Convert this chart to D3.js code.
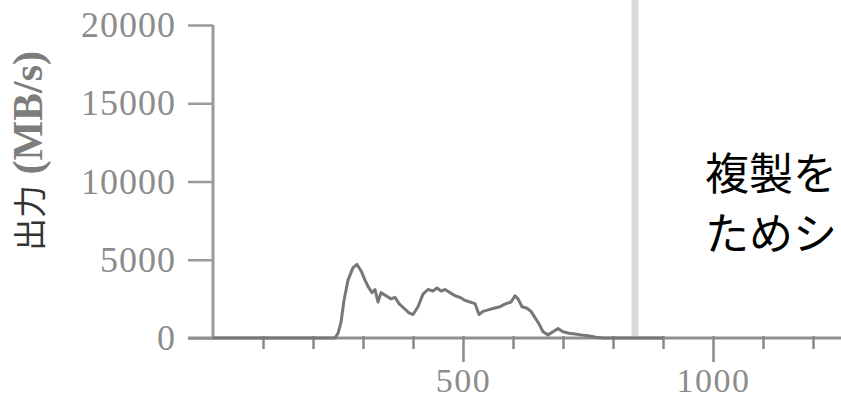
<!DOCTYPE html>
<html>
<head>
<meta charset="utf-8">
<script src="https://cdn.jsdelivr.net/npm/d3@7"></script>
<style>
  body { margin: 0; background: #fff; }
  svg { display: block; }
</style>
</head>
<body>
<div id="container"></div>
<script>
  // data
  const timeValues = [0, 100, 200, 244, 250, 256, 262, 270, 280, 288, 296, 304, 310, 318, 324, 330, 336, 346, 356, 364,
    372, 382, 392, 400, 410, 420, 430, 440, 448, 456, 464, 474, 484, 494, 504, 514, 524, 532, 540, 550,
    562, 574, 586, 596, 604, 610, 618, 628, 636, 644, 652, 660, 670, 680, 690, 700, 712, 724, 736, 750,
    766, 780, 900]
  const outputValues = [0, 0, 0, 0, 300, 1000, 2400, 3700, 4500, 4700, 4300, 3700, 3300, 2900, 3100, 2300, 2900, 2700, 2500, 2600,
    2200, 1900, 1600, 1500, 2000, 2800, 3100, 3000, 3200, 3000, 3100, 2900, 2700, 2600, 2400, 2300, 2200, 1500, 1700, 1800,
    1900, 2000, 2200, 2300, 2700, 2500, 2000, 1900, 1700, 1300, 900, 400, 200, 400, 600, 400, 300, 250, 200, 150,
    50, 0, 0]
  const yTicks = [0, 5000, 10000, 15000, 20000]
  const xTicks = [100, 200, 300, 400, 500, 600, 700, 800, 900, 1000, 1100, 1200]
  const xLabelTicks = [500, 1000]
  const markerValue = 844
  const overlayLines = ['複製を', 'ためシ']

  const w = 841
  const h = 401

  const svg = d3.select('#container')
    .append('svg')
    .attr('width', w)
    .attr('height', h)

  //SCALES
  const x = d3.scaleLinear()
    .domain([0, 1256])
    .range([213, 841])

  const y = d3.scaleLinear()
    .domain([0, 20000])
    .range([338, 25])

  //MARKER LINE
  svg.append('line')
    .attr('x1', x(markerValue))
    .attr('x2', x(markerValue))
    .attr('y1', 0)
    .attr('y2', y(0) - 2)
    .attr('stroke', '#d9d9d9')
    .attr('stroke-width', 7)

  //Y AXIS
  const yAxis = svg.append('g')
    .attr('transform', `translate(${x(0)},0)`)
    .call(d3.axisLeft(y).tickValues(yTicks).tickSize(25).tickPadding(12).tickFormat(d3.format('d')))

  yAxis.select('.domain')
    .attr('d', `M0,${y(20000)}V${y(0)}`)
    .attr('stroke', '#9a9a9a')
    .attr('stroke-width', 3)

  yAxis.selectAll('.tick line')
    .attr('stroke', '#9a9a9a')
    .attr('stroke-width', 2.5)

  yAxis.selectAll('.tick text')
    .attr('fill', '#8c8c8c')
    .style('font-family', '"Liberation Serif", serif')
    .style('font-size', '36px')
    .style('letter-spacing', '1px')

  //X AXIS
  const xAxis = svg.append('g')
    .attr('transform', `translate(0,${y(0)})`)
    .call(d3.axisBottom(x).tickValues(xTicks).tickSize(12).tickPadding(18)
      .tickFormat(d => xLabelTicks.includes(d) ? d : ''))

  xAxis.select('.domain')
    .attr('d', `M${x(0) - 25},0H${w}`)
    .attr('stroke', '#8f8f8f')
    .attr('stroke-width', 3)

  xAxis.selectAll('.tick line')
    .attr('y1', -2)
    .attr('y2', d => xLabelTicks.includes(d) ? 24 : 11)
    .attr('stroke', '#8a8a8a')
    .attr('stroke-width', 2.5)

  xAxis.selectAll('.tick text')
    .attr('fill', '#8c8c8c')
    .style('font-family', '"Liberation Serif", serif')
    .style('font-size', '34px')
    .style('letter-spacing', '1.5px')

  //OUTPUT LINE
  const line = d3.line()
    .x((d, i) => x(timeValues[i]))
    .y(d => y(d))

  svg.append('path')
    .datum(outputValues)
    .attr('d', line)
    .attr('fill', 'none')
    .attr('stroke', '#777')
    .attr('stroke-width', 3)
    .attr('stroke-linejoin', 'round')

  //Y LABEL
  const yLabel = svg.append('text')
    .attr('transform', 'translate(42,151) rotate(-90)')
    .attr('text-anchor', 'middle')

  yLabel.append('tspan')
    .text('出力')
    .attr('fill', '#333')
    .style('font-family', '"Noto Sans CJK JP", sans-serif')
    .style('font-size', '33px')

  yLabel.append('tspan')
    .text(' (MB/s)')
    .attr('fill', '#7d7d7d')
    .style('font-family', '"Liberation Serif", serif')
    .style('font-weight', 'bold')
    .style('font-size', '42px')

  //OVERLAY TEXT
  svg.selectAll('.overlay')
    .data(overlayLines)
    .enter()
    .append('text')
    .attr('class', 'overlay')
    .attr('x', 705)
    .attr('y', (d, i) => 190 + i * 60)
    .attr('fill', '#000')
    .style('font-family', '"Noto Sans CJK JP", sans-serif')
    .style('font-size', '44px')
    .text(d => d)
</script>
</body>
</html>
